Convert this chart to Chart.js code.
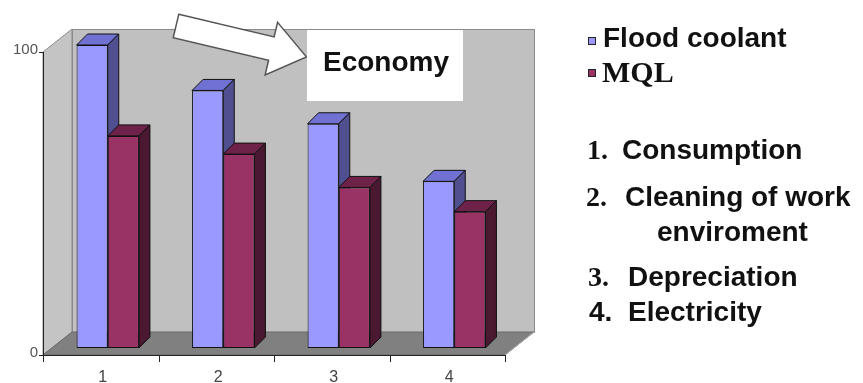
<!DOCTYPE html>
<html>
<head>
<meta charset="utf-8">
<script src="https://cdn.jsdelivr.net/npm/chart.js@4.4.1/dist/chart.umd.min.js"></script>
<style>
    body { margin: 0; background: #fff; }
    #wrap { position: relative; width: 863px; height: 383px; overflow: hidden; }
    #chart { position: absolute; left: 0; top: 0; }
    .txt { position: absolute; white-space: nowrap; line-height: 1; color: #111; font-weight: bold; }
    .sans { font-family: "Liberation Sans", Arial, sans-serif; }
    .serif { font-family: "Liberation Serif", "Times New Roman", serif; }
    .mark { position: absolute; width: 6px; height: 6px; border: 1px solid #222; }
    #economy { position: absolute; left: 307px; top: 30px; width: 156px; height: 71px; background: #fff; }
</style>
</head>
<body>
<div id="wrap">
    <canvas id="chart" width="863" height="383"></canvas>
    <div id="economy"></div>
    <div id="labels"></div>
</div>
<script>
// datos del grafico
const categories = ['1', '2', '3', '4'];
const floodCoolant = [100, 85, 74, 55];
const mql = [70, 64, 53, 45];
const yTicks = [0, 100];
const seriesNames = ['Flood coolant', 'MQL'];
const itemNames = ['Consumption', 'Cleaning of work', 'enviroment', 'Depreciation', 'Electricity'];

const DEPTH = 11;

// paredes, piso y caras 3D de las barras
const threeD = {
    id: 'threeD',
    beforeDatasetsDraw(chart) {
        const ctx = chart.ctx;
        const a = chart.chartArea;
        const fl = a.left - 7, fr = a.right - 7, fb = a.bottom + 7, ft = a.top + 7;
        const bl = a.left + 22, br = a.right + 22, bb = a.bottom - 16, bt = a.top - 16;
        ctx.save();
        ctx.lineWidth = 1;
        // pared izquierda
        ctx.fillStyle = '#c4c4c4';
        ctx.strokeStyle = '#8a8a8a';
        ctx.beginPath();
        ctx.moveTo(fl, ft); ctx.lineTo(bl, bt); ctx.lineTo(bl, bb); ctx.lineTo(fl, fb); ctx.closePath();
        ctx.fill(); ctx.stroke();
        // pared del fondo
        ctx.fillStyle = '#c0c0c0';
        ctx.fillRect(bl, bt, br - bl, bb - bt);
        ctx.strokeRect(bl + 0.5, bt + 0.5, br - bl, bb - bt);
        // piso
        ctx.fillStyle = '#808080';
        ctx.strokeStyle = '#6a6a6a';
        ctx.beginPath();
        ctx.moveTo(fl, fb); ctx.lineTo(bl, bb); ctx.lineTo(br, bb); ctx.lineTo(fr, fb); ctx.closePath();
        ctx.fill(); ctx.stroke();
        ctx.strokeStyle = '#b0b0b0';
        ctx.beginPath(); ctx.moveTo(fr, fb); ctx.lineTo(br, bb); ctx.stroke();
        // ejes
        ctx.strokeStyle = '#222';
        ctx.beginPath();
        ctx.moveTo(fl + 0.5, ft); ctx.lineTo(fl + 0.5, fb + 1);
        ctx.moveTo(fl, fb + 0.5); ctx.lineTo(fr, fb + 0.5);
        ctx.moveTo(fl - 4, ft + 0.5); ctx.lineTo(fl, ft + 0.5);
        ctx.moveTo(fl - 4, fb + 0.5); ctx.lineTo(fl, fb + 0.5);
        const step = (fr - fl) / categories.length;
        for (let i = 0; i <= categories.length; i++) {
            const x = Math.round(fl + i * step) + 0.5;
            ctx.moveTo(x, fb); ctx.lineTo(x, fb + 7);
        }
        ctx.stroke();

        // caras superior y lateral
        const faceColors = [['#7171d4', '#505090'], ['#6e2149', '#4a1830']];
        ctx.strokeStyle = '#111';
        for (let i = 0; i < categories.length; i++) {
            chart.data.datasets.forEach((ds, di) => {
                const bar = chart.getDatasetMeta(di).data[i];
                const p = bar.getProps(['x', 'y', 'base', 'width'], true);
                const l = p.x - p.width / 2, r = p.x + p.width / 2;
                ctx.fillStyle = faceColors[di][0];
                ctx.beginPath();
                ctx.moveTo(l, p.y); ctx.lineTo(r, p.y); ctx.lineTo(r + DEPTH, p.y - DEPTH); ctx.lineTo(l + DEPTH, p.y - DEPTH); ctx.closePath();
                ctx.fill(); ctx.stroke();
                ctx.fillStyle = faceColors[di][1];
                ctx.beginPath();
                ctx.moveTo(r, p.y); ctx.lineTo(r + DEPTH, p.y - DEPTH); ctx.lineTo(r + DEPTH, p.base - DEPTH); ctx.lineTo(r, p.base); ctx.closePath();
                ctx.fill(); ctx.stroke();
            });
        }
        ctx.restore();
    },
    afterDraw(chart) {
        // flecha blanca
        const ctx = chart.ctx;
        const L = 134, ang = Math.atan2(31, 131);
        const pts = [[0, -12], [L - 36, -12], [L - 36, -27], [L, 0], [L - 36, 27], [L - 36, 12], [0, 12]];
        ctx.save();
        ctx.translate(176, 26);
        ctx.rotate(ang);
        ctx.beginPath();
        pts.forEach((pt, i) => i ? ctx.lineTo(pt[0], pt[1]) : ctx.moveTo(pt[0], pt[1]));
        ctx.closePath();
        ctx.fillStyle = '#fff';
        ctx.fill();
        ctx.strokeStyle = '#555';
        ctx.lineWidth = 1.5;
        ctx.stroke();
        ctx.restore();
    }
};

new Chart(document.getElementById('chart'), {
    type: 'bar',
    data: {
        labels: categories,
        datasets: [
            { label: seriesNames[0], data: floodCoolant, backgroundColor: '#9999ff', borderColor: '#111', borderWidth: 1, borderSkipped: false },
            { label: seriesNames[1], data: mql, backgroundColor: '#993366', borderColor: '#111', borderWidth: 1, borderSkipped: false }
        ]
    },
    options: {
        responsive: false,
        animation: false,
        devicePixelRatio: 1,
        layout: { padding: { left: 0, right: 351, top: 45, bottom: 0 } },
        categoryPercentage: 0.54,
        barPercentage: 1,
        plugins: { legend: { display: false }, tooltip: { enabled: false } },
        scales: {
            x: {
                grid: { display: false, drawTicks: false },
                border: { display: false },
                ticks: { color: '#444', font: { family: 'Liberation Sans', size: 16 }, padding: 20, labelOffset: -5 },
                afterFit: s => { s.height = 35; }
            },
            y: {
                min: 0,
                max: 100,
                grid: { display: false, drawTicks: false },
                border: { display: false },
                afterBuildTicks: s => { s.ticks = yTicks.map(v => ({ value: v })); },
                ticks: { color: '#555', font: { family: 'Liberation Sans', size: 15 }, padding: 12, labelOffset: 5 },
                afterFit: s => { s.width = 50; }
            }
        }
    },
    plugins: [threeD]
});

// textos de la derecha
const labels = document.getElementById('labels');
function addText(text, cls, left, baseline, size) {
    const d = document.createElement('div');
    d.className = 'txt ' + cls;
    d.style.fontSize = size + 'px';
    d.style.left = left + 'px';
    d.style.top = Math.round(baseline - 0.845 * size) + 'px';
    d.textContent = text;
    labels.appendChild(d);
}
function addMark(color, top) {
    const m = document.createElement('div');
    m.className = 'mark';
    m.style.left = '588px';
    m.style.top = top + 'px';
    m.style.background = color;
    labels.appendChild(m);
}
addText('Economy', 'sans', 323, 72, 28);
addMark('#9999ff', 37);
addText(seriesNames[0], 'sans', 603, 48, 28);
addMark('#993366', 69);
addText(seriesNames[1], 'serif', 602, 82, 30);
addText('1.', 'serif', 587, 160, 28);
addText(itemNames[0], 'sans', 622, 160, 28);
addText('2.', 'serif', 586, 207, 28);
addText(itemNames[1], 'sans', 625, 207, 28);
addText(itemNames[2], 'sans', 657, 242, 28);
addText('3.', 'serif', 588, 287, 28);
addText(itemNames[3], 'sans', 628, 287, 28);
addText('4.', 'sans', 589, 322, 28);
addText(itemNames[4], 'sans', 628, 322, 28);
</script>
</body>
</html>
